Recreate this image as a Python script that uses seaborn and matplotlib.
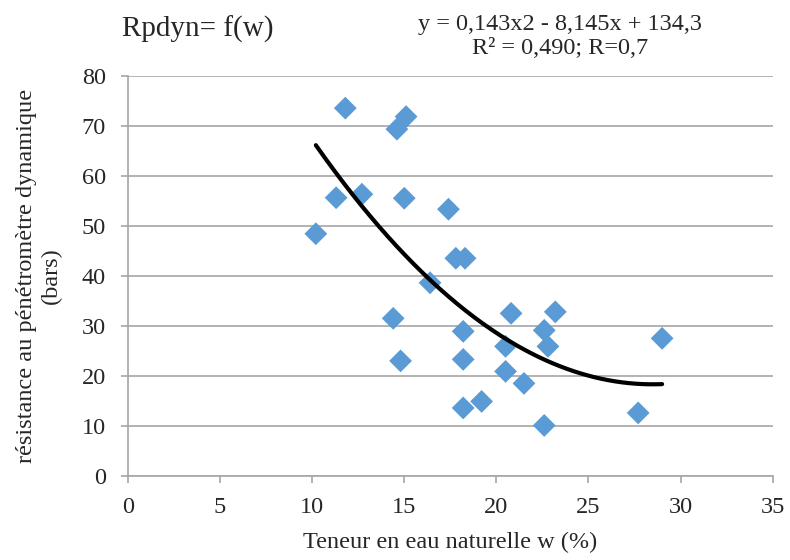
import numpy as np
import pandas as pd
import matplotlib
matplotlib.use("Agg")
import matplotlib.pyplot as plt
import seaborn as sns

# teneur en eau naturelle w (%) et resistance Rpdyn (bars)
w = [10.2, 11.3, 11.8, 12.7, 14.4, 14.6, 14.8, 15.0, 15.1, 16.4, 17.4, 17.8,
     18.2, 18.2, 18.2, 18.3, 19.2, 20.5, 20.5, 20.8, 21.5, 22.6, 22.6, 22.8,
     23.2, 27.7, 29.0]
rpdyn = [48.4, 55.6, 73.5, 56.3, 31.5, 69.3, 23.0, 55.5, 71.8, 38.6, 53.3, 43.5,
         28.9, 23.3, 13.6, 43.5, 14.9, 25.9, 20.9, 32.5, 18.5, 29.1, 10.1, 25.9,
         32.8, 12.6, 27.5]

# courbe de tendance polynomiale (ordre 2) affichee sur le graphique
coef = [0.143, -8.145, 134.3]

df = pd.DataFrame({"w": w, "rpdyn": rpdyn})
xs = np.linspace(min(w), max(w), 200)
trend = pd.DataFrame({"w": xs, "rpdyn": np.polyval(coef, xs)})

sns.set_style("white")
plt.rcParams["font.family"] = ["Liberation Serif", "DejaVu Serif"]

fig, ax = plt.subplots(figsize=(7.9, 5.6), dpi=100)
fig.subplots_adjust(left=0.162, right=0.978, top=0.865, bottom=0.15)

grey = "#A6A6A6"
ax.set_axisbelow(True)
ax.yaxis.grid(True, color=grey, linewidth=1.2)
ax.xaxis.grid(False)

sns.scatterplot(data=df, x="w", y="rpdyn", ax=ax, marker="D", s=135,
                color="#5B9BD5", edgecolor="none", zorder=3)
sns.lineplot(data=trend, x="w", y="rpdyn", ax=ax, color="black",
             linewidth=3, zorder=4)

ax.set_xlim(0, 35)
ax.set_ylim(0, 80)
ax.set_xticks(range(0, 36, 5))
ax.set_yticks(range(0, 81, 10))

for side in ["top", "right"]:
    ax.spines[side].set_visible(False)
for side in ["left", "bottom"]:
    ax.spines[side].set_color(grey)
    ax.spines[side].set_linewidth(1.2)
ax.tick_params(axis="both", direction="out", length=5, width=1.2,
               color=grey, labelsize=17.5)
ax.tick_params(axis="both", which="both", bottom=True, left=True)
ax.tick_params(axis="x", pad=10)
ax.tick_params(axis="y", pad=11)

ax.set_xlabel("Teneur en eau naturelle w (%)", fontsize=17.5, labelpad=10)
ax.set_ylabel("résistance au pénétromètre dynamique\n(bars)", fontsize=17.5,
              labelpad=14, linespacing=1.25)

fig.text(0.155, 0.948, "Rpdyn= f(w)", fontsize=21, ha="left", va="center")
fig.text(0.709, 0.935, "y = 0,143x2 - 8,145x + 134,3\nR² = 0,490; R=0,7",
         fontsize=17.5, ha="center", va="center", linespacing=1.2)

fig.savefig("out.png", dpi=100)
